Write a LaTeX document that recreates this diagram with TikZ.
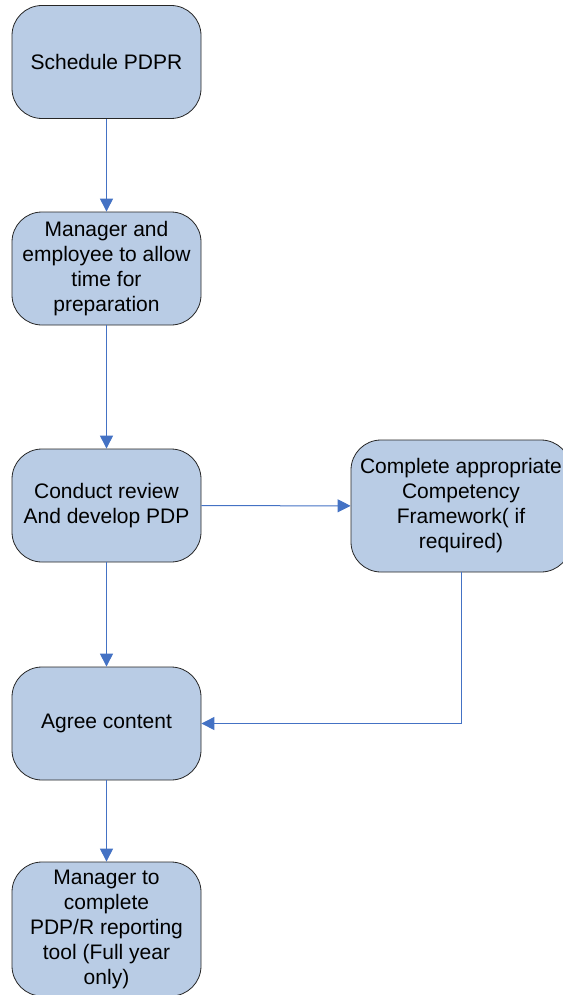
\documentclass[tikz,border=0pt]{standalone}
\usepackage{fontspec}
\setmainfont{Liberation Sans}
\usetikzlibrary{arrows.meta}
\definecolor{boxfill}{RGB}{185,204,229}
\definecolor{linkblue}{RGB}{68,114,196}
\tikzset{
  stage/.style={draw=black!85, line width=0.8pt, fill=boxfill, rounded corners=30pt,
    minimum width=189pt, minimum height=113pt, inner sep=0pt, align=center,
    font=\fontsize{21}{25}\selectfont},
  link/.style={draw=linkblue, line width=1pt, -{Triangle[length=13pt,width=13pt]}}
}
\begin{document}
\begin{tikzpicture}[x=1pt,y=-1pt]
    \useasboundingbox (0,0) rectangle (562,995);
    \node[stage] (sched) at (106.5,62) {Schedule PDPR};
    \node[stage] (prep) at (106.5,268.5) {Manager and\\employee to allow\\time for\\preparation};
    \node[stage] (review) at (106.5,505.5) {Conduct review\\And develop PDP};
    \node[stage, minimum width=220pt, minimum height=132pt] (frame) at (461,506)
        {Complete appropriate\\Competency\\Framework( if\\required)};
    \node[stage] (agree) at (106.5,723.5) {Agree content};
    \node[stage, minimum height=134pt] (tool) at (106.5,929)
        {Manager to\\complete\\PDP/R reporting\\tool (Full year\\only)};
    % connectors
    \draw[link] (sched) -- (prep);
    \draw[link] (prep) -- (review);
    \draw[link] (review) -- (frame);
    \draw[link] (review) -- (agree);
    \draw[link] (frame.south) -- (frame.south |- agree.east) -- (agree.east);
    \draw[link] (agree) -- (tool);
\end{tikzpicture}
\end{document}
